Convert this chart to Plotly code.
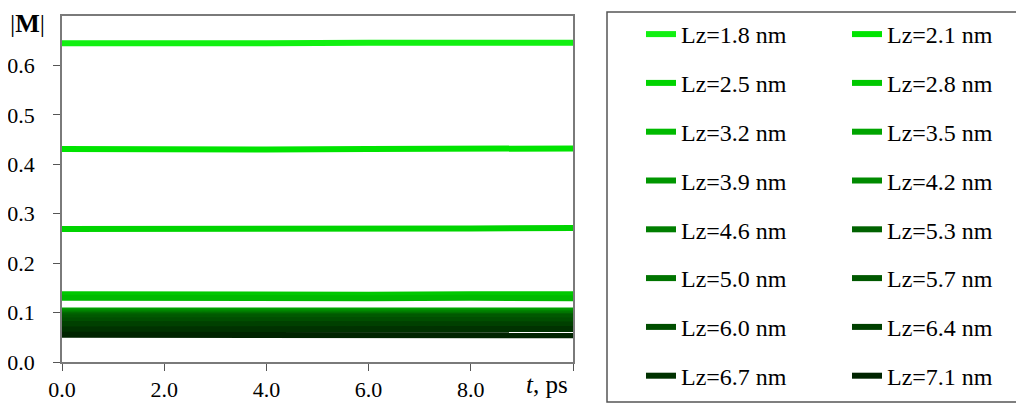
import plotly.graph_objects as go

# 時間軸 (ps)
t_ps = [0, 2, 4, 6, 8, 10]

# 膜厚ラベル
lz_labels = ["1.8", "2.1", "2.5", "2.8", "3.2", "3.5", "3.9", "4.2",
             "4.6", "5.0", "5.3", "5.7", "6.0", "6.4", "6.7", "7.1"]

# 凡例の列（元図の並び順: 左列）
legend_left = ["1.8", "2.5", "3.2", "3.9", "4.6", "5.0", "6.0", "6.7"]

# |M| の時間推移
m_18 = [0.645, 0.644, 0.645, 0.646, 0.647, 0.646]
m_21 = [0.431, 0.429, 0.430, 0.431, 0.432, 0.432]
m_25 = [0.269, 0.270, 0.269, 0.270, 0.270, 0.271]
m_28 = [0.137, 0.136, 0.137, 0.136, 0.137, 0.137]
m_32 = [0.130, 0.129, 0.130, 0.129, 0.130, 0.129]
m_35 = [0.104, 0.104, 0.105, 0.104, 0.105, 0.104]
m_39 = [0.102, 0.101, 0.102, 0.102, 0.101, 0.102]
m_42 = [0.100, 0.100, 0.099, 0.100, 0.100, 0.099]
m_46 = [0.098, 0.097, 0.098, 0.097, 0.098, 0.098]
m_50 = [0.096, 0.095, 0.096, 0.096, 0.095, 0.096]
m_53 = [0.094, 0.094, 0.093, 0.094, 0.094, 0.093]
m_57 = [0.090, 0.090, 0.091, 0.090, 0.090, 0.091]
m_60 = [0.084, 0.085, 0.084, 0.084, 0.085, 0.084]
m_64 = [0.077, 0.077, 0.076, 0.077, 0.077, 0.076]
m_67 = [0.066, 0.066, 0.067, 0.066, 0.066, 0.067]
m_71 = [0.055, 0.055, 0.054, 0.055, 0.055, 0.054]

series = [m_18, m_21, m_25, m_28, m_32, m_35, m_39, m_42,
          m_46, m_50, m_53, m_57, m_60, m_64, m_67, m_71]

# 明るい緑から暗い緑へ
colors = ['#11F011', '#00E400', '#00D400', '#00C800', '#00BA00', '#00A400',
          '#009600', '#008A00', '#007E00', '#007400', '#006200', '#005800',
          '#004E00', '#004000', '#003200', '#002400']

FONT = 'Liberation Serif'

# ページ余白 (body margin 8px) を考慮したプロット領域
L, T, W, H = 54, 8, 511, 346

fig = go.Figure()
for lab, vals, col in zip(lz_labels, series, colors):
    fig.add_trace(go.Scatter(
        x=t_ps, y=vals, mode='lines', name=f"Lz={lab} nm",
        line=dict(color=col, width=6),
        legend='legend' if lab in legend_left else 'legend2',
        legendgroup=lab,
    ))

axis_common = dict(
    showgrid=False, zeroline=False, showline=True, linecolor='#7a7a7a', linewidth=1.5,
    mirror=True, ticks='outside', ticklen=7, tickcolor='#555555', tickwidth=1.2,
    tickfont=dict(family=FONT, size=22, color='black'),
)

legend_common = dict(
    font=dict(family=FONT, size=24, color='black'),
    bgcolor='rgba(0,0,0,0)', borderwidth=0, tracegroupgap=14.6,
    xref='container', yref='container', xanchor='left', yanchor='top',
    orientation='v', itemwidth=30, maxheight=600,
)

fig.update_layout(
    width=1024, height=414,
    margin=dict(l=L, r=1024 - L - W, t=T, b=414 - T - H, autoexpand=False),
    paper_bgcolor='white', plot_bgcolor='white',
    font=dict(family=FONT, size=20, color='black'),
    xaxis=dict(range=[0, 10], tickvals=[0, 2, 4, 6, 8, 10],
               ticktext=['0.0', '2.0', '4.0', '6.0', '8.0', ''], **axis_common),
    yaxis=dict(range=[0, 0.7], tickvals=[0, 0.1, 0.2, 0.3, 0.4, 0.5, 0.6],
               tickformat='.1f', ticklabelstandoff=14, **axis_common),
    legend=dict(x=633 / 1024, y=1 - 4 / 414, **legend_common),
    legend2=dict(x=839 / 1024, y=1 - 4 / 414, **legend_common),
    shapes=[dict(type='rect', xref='paper', yref='paper',
                 x0=(607 - 62) / W, x1=(1017 - 62) / W,
                 y0=(362 - 402) / H, y1=(362 - 12) / H,
                 line=dict(color='#555555', width=1.5))],
    annotations=[
        dict(text='|<b>M</b>|', xref='paper', yref='paper', x=-0.106, y=1.025,
             xanchor='left', yanchor='top', showarrow=False,
             font=dict(family=FONT, size=26, color='black')),
        dict(text='<i>t</i>, ps', xref='paper', yref='paper', x=0.995, y=-0.066,
             xanchor='right', yanchor='middle', showarrow=False,
             font=dict(family=FONT, size=25, color='black')),
    ],
)

fig.write_html("out.html")
